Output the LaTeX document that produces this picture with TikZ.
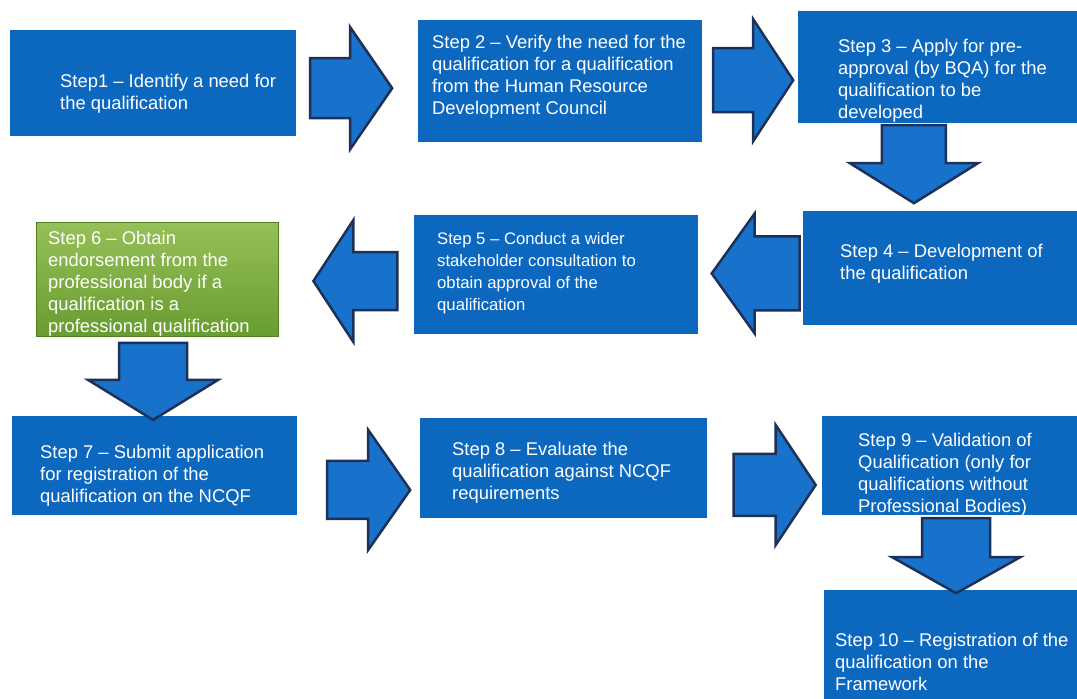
\documentclass[tikz,border=0pt]{standalone}
\usepackage{fontspec}
\setmainfont{Liberation Sans}
\usetikzlibrary{calc}
\definecolor{boxblue}{RGB}{12,104,190}
\definecolor{arrowblue}{RGB}{24,114,204}
\definecolor{arrowedge}{RGB}{28,48,88}
\definecolor{greentop}{RGB}{150,192,88}
\definecolor{greenbot}{RGB}{104,156,48}
\tikzset{
	stepbox/.style={fill=boxblue, inner sep=0pt, anchor=north west},
	steptext/.style={align=left, inner sep=0pt, anchor=north west, text=white, font=\fontsize{18.4}{22}\selectfont},
	arrowstyle/.style={fill=arrowblue, draw=arrowedge, line width=2.5pt, line join=miter},
	pics/blockarrow/.style n args={4}{code={
			\draw[arrowstyle] (-#1/2,-#2) -- (#1/2-#4,-#2) -- (#1/2-#4,-#3) -- (#1/2,0) -- (#1/2-#4,#3) -- (#1/2-#4,#2) -- (-#1/2,#2) -- cycle;
	}}
}
\begin{document}
\begin{tikzpicture}[x=1pt, y=-1pt]
	\useasboundingbox (0,0) rectangle (1077,699);
	% step boxes
	\foreach \n/\x/\y/\w/\h in {s1/10/30/286/106, s2/418/20/284/122, s3/798/11/279/112, s4/803/211/274/114,
		s5/414/215/284/119, s7/12/416/285/99, s8/420/418/287/100, s9/822/416/255/99, s10/824/590/253/109}
	\node[stepbox, minimum width=\w pt, minimum height=\h pt] (\n) at (\x,\y) {};
	\node[stepbox, minimum width=242pt, minimum height=114pt, top color=greentop, bottom color=greenbot, draw=greenbot!80!black, line width=.8pt] (s6) at (36,222) {};
	% texts
	\node[steptext] (t1) at ($(s1.north west)+(50,43.5)$) {Step1 – Identify a need for\\the qualification};
	\node[steptext] (t2) at ($(s2.north west)+(14,14.5)$) {Step 2 – Verify the need for the\\qualification for a qualification\\from the Human Resource\\Development Council};
	\node[steptext] (t3) at ($(s3.north west)+(40,27.5)$) {Step 3 – Apply for pre-\\approval (by BQA) for the\\qualification to be\\developed};
	\node[steptext] (t4) at ($(s4.north west)+(37,32.5)$) {Step 4 – Development of\\the qualification};
	\node[steptext, font=\fontsize{16.7}{22}\selectfont] (t5) at ($(s5.north west)+(23,16.7)$) {Step 5 – Conduct a wider\\stakeholder consultation to\\obtain approval of the\\qualification};
	\node[steptext] (t6) at ($(s6.north west)+(12,8.5)$) {Step 6 – Obtain\\endorsement from the\\professional body if a\\qualification is a\\professional qualification};
	\node[steptext] (t7) at ($(s7.north west)+(28,28.5)$) {Step 7 – Submit application\\for registration of the\\qualification on the NCQF};
	\node[steptext] (t8) at ($(s8.north west)+(32,23.5)$) {Step 8 – Evaluate the\\qualification against NCQF\\requirements};
	\node[steptext] (t9) at ($(s9.north west)+(36,16.5)$) {Step 9 – Validation of\\Qualification (only for\\qualifications without\\Professional Bodies)};
	\node[steptext] (t10) at ($(s10.north west)+(11,42.5)$) {Step 10 – Registration of the\\qualification on the\\Framework};
	% block arrows
	\pic (a1) at ($(s1.east)!.5!(s2.west)+(-6,6)$) {blockarrow={82}{30}{61}{42}};
	\pic (a2) at ($(s2.east)!.5!(s3.west)+(3,6)$) {blockarrow={80}{32}{61}{40}};
	\pic[rotate=-90] (a3) at ($(s3.south)!.5!(s4.north)+(-25,-3)$) {blockarrow={78}{32}{64}{40}};
	\pic[rotate=180] (a4) at ($(s4.west)!.5!(s5.east)+(5,2)$) {blockarrow={88}{37}{60}{43}};
	\pic[rotate=180] (a5) at ($(s5.west)!.5!(s6.east)+(9,4)$) {blockarrow={84}{29}{61}{40}};
	\pic[rotate=-90] (a6) at ($(s6.south)!.5!(s7.north)+(-3,5)$) {blockarrow={77}{34}{65}{40}};
	\pic (a7) at ($(s7.east)!.5!(s8.west)+(10,23)$) {blockarrow={83}{29}{60}{42}};
	\pic (a8) at ($(s8.east)!.5!(s9.west)+(10,18)$) {blockarrow={82}{31}{60}{40}};
	\pic[rotate=-90] (a9) at ($(s9.south)!.5!(s10.north)+(6,3)$) {blockarrow={75}{34}{64}{36}};
\end{tikzpicture}
\end{document}
